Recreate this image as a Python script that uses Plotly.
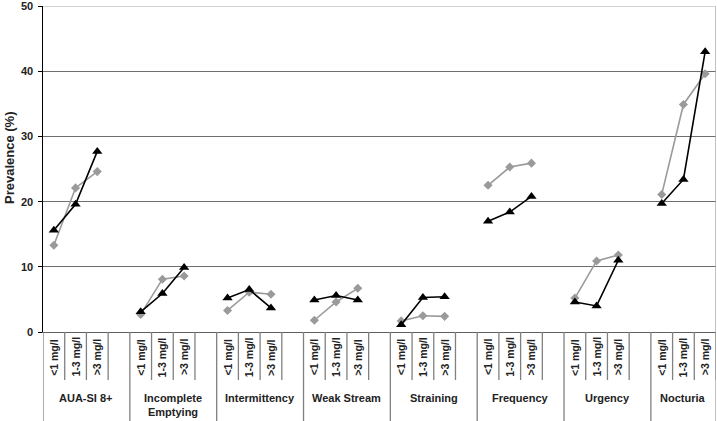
import plotly.graph_objects as go

groups = ["AUA-SI 8+", "Incomplete<br>Emptying", "Intermittency", "Weak Stream",
          "Straining", "Frequency", "Urgency", "Nocturia"]
levels = ["<1 mg/l", "1-3 mg/l", ">3 mg/l"]

black_vals = [
    [15.6, 19.6, 27.7],
    [3.1, 5.9, 9.9],
    [5.2, 6.5, 3.7],
    [4.9, 5.6, 4.9],
    [1.1, 5.3, 5.4],
    [17.0, 18.4, 20.8],
    [4.6, 4.0, 11.0],
    [19.7, 23.4, 43.0],
]
gray_vals = [
    [13.3, 22.1, 24.6],
    [2.7, 8.1, 8.6],
    [3.3, 6.1, 5.8],
    [1.8, 4.6, 6.7],
    [1.7, 2.5, 2.4],
    [22.5, 25.3, 25.9],
    [5.2, 10.9, 11.8],
    [21.1, 34.9, 39.6],
]
y_ticks = [0, 10, 20, 30, 40, 50]

slots_per_group = 4
n_slots = slots_per_group * (len(groups) - 1) + len(levels)

def series(vals):
    xs, ys = [], []
    for g, row in enumerate(vals):
        for l, v in enumerate(row):
            xs.append(g * slots_per_group + l + 0.5)
            ys.append(v)
        xs.append(None)
        ys.append(None)
    return xs, ys

FONT = "Liberation Sans, Arial"

fig = go.Figure()
gx, gy = series(gray_vals)
bx, by = series(black_vals)
fig.add_trace(go.Scatter(x=gx, y=gy, mode="lines+markers",
                         line=dict(color="#9a9a9a", width=1.6),
                         marker=dict(symbol="diamond", size=7, color="#9a9a9a"),
                         connectgaps=False, showlegend=False, cliponaxis=False))
fig.add_trace(go.Scatter(x=bx, y=by, mode="lines+markers",
                         line=dict(color="#000000", width=1.6),
                         marker=dict(symbol="triangle-up", size=9, color="#000000"),
                         connectgaps=False, showlegend=False, cliponaxis=False))

plot_h = 326.0
plot_w = 673.0
short_y = -48 / plot_h
long_y = -92 / plot_h
lab_y = -25 / plot_h
grp_y = -58 / plot_h

shapes = []
annotations = []
sep_color = "#808080"
for g, name in enumerate(groups):
    start = g * slots_per_group
    shapes.append(dict(type="line", xref="x", yref="paper", x0=start, x1=start,
                       y0=0, y1=long_y, line=dict(color=sep_color, width=1.3)))
    for l, lev in enumerate(levels):
        shapes.append(dict(type="line", xref="x", yref="paper", x0=start + l + 1, x1=start + l + 1,
                           y0=0, y1=short_y, line=dict(color=sep_color, width=1.3)))
        annotations.append(dict(x=start + l + 0.5, y=lab_y, xref="x", yref="paper",
                                text="<b>" + lev.replace("<", "&lt;").replace(">", "&gt;") + "</b>",
                                textangle=-90, showarrow=False,
                                font=dict(family=FONT, size=10.5, color="#222"),
                                xanchor="center", yanchor="middle"))
    nslots = slots_per_group if g < len(groups) - 1 else len(levels)
    annotations.append(dict(x=start + nslots / 2, y=grp_y, xref="x", yref="paper",
                            text="<b>" + name + "</b>", showarrow=False,
                            font=dict(family=FONT, size=11, color="#222"),
                            xanchor="center", yanchor="top"))
# y tick labels
for v in y_ticks:
    annotations.append(dict(x=-8 / plot_w, y=v, xref="paper", yref="y",
                            text="<b>%d</b>" % v, showarrow=False,
                            font=dict(family=FONT, size=11, color="#222"),
                            xanchor="right", yanchor="middle"))
# y axis title
annotations.append(dict(x=-34 / plot_w, y=(332 - 158) / plot_h, xref="paper", yref="paper",
                        text="<b>Prevalence (%)</b>", textangle=-90, showarrow=False,
                        font=dict(family=FONT, size=13, color="#222"),
                        xanchor="center", yanchor="middle"))
# right boundary
shapes.append(dict(type="line", xref="x", yref="paper", x0=n_slots, x1=n_slots,
                   y0=long_y, y1=1, line=dict(color="#a0a0a0", width=1.3)))
# top border
shapes.append(dict(type="line", xref="paper", yref="y", x0=0, x1=1, y0=50, y1=50,
                   line=dict(color="#c4c4c4", width=1.5)))

fig.update_layout(
    width=717, height=421,
    margin=dict(l=43, r=1, t=6, b=89),
    paper_bgcolor="white", plot_bgcolor="white",
    xaxis=dict(range=[0, n_slots], showticklabels=False, showgrid=False, zeroline=False,
               showline=True, linecolor="#606060", linewidth=1.3, ticks=""),
    yaxis=dict(range=[0, 50], tickvals=y_ticks, showticklabels=False,
               showgrid=True, gridcolor="#6e6e6e", gridwidth=1.3, zeroline=False,
               showline=True, linecolor="#000", linewidth=1.2,
               ticks="outside", ticklen=4, tickcolor="#000"),
    shapes=shapes, annotations=annotations,
)
fig.write_html("out.html", config={"displayModeBar": False},
               post_script="document.body.style.margin='0';document.body.style.overflow='hidden';")
